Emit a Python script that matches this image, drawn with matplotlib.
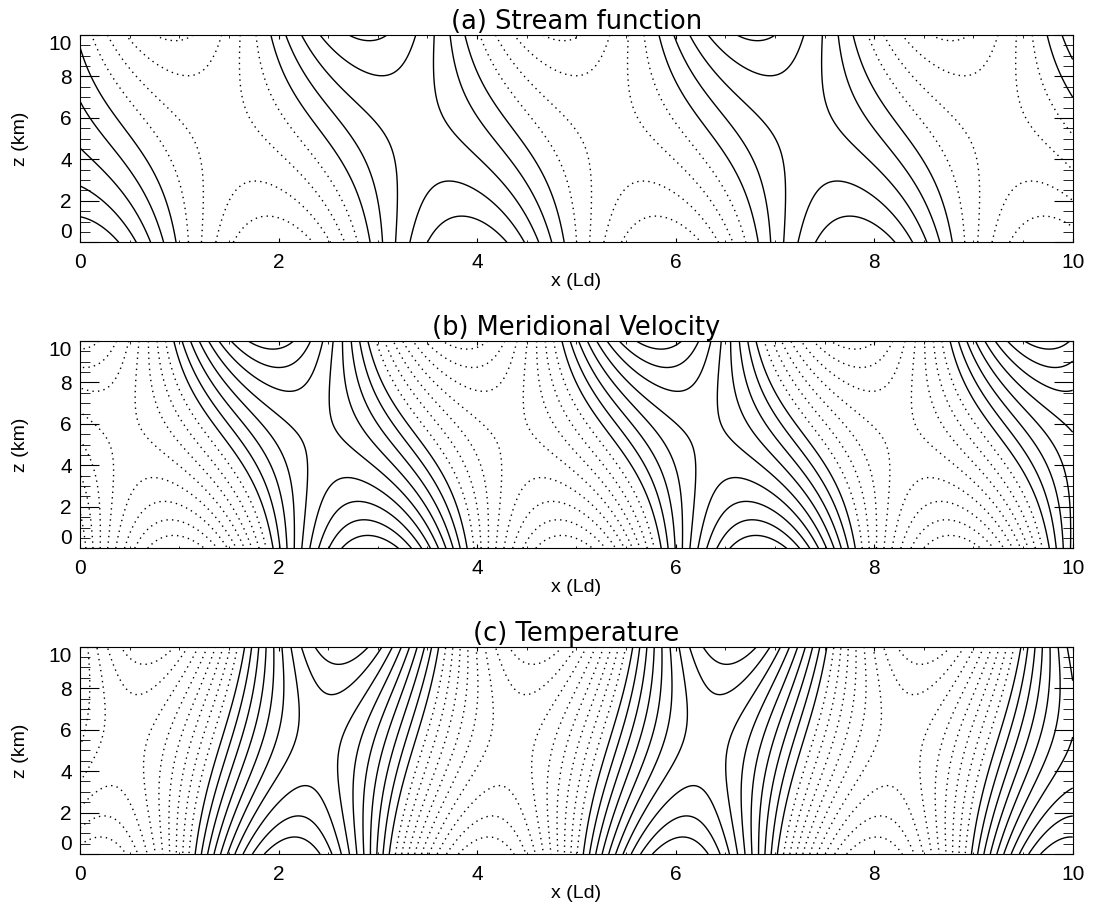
import numpy as np
import matplotlib.pyplot as plt
from matplotlib.ticker import MultipleLocator

plt.rcParams['font.family'] = ['Liberation Sans', 'DejaVu Sans']

###############################################
# Values
###############################################

H_KM = 10.0          # depth of the layer (km)
WAVELENGTH = 3.91    # Ld, spacing of repeated highs along x
X_GROUND_MAX = 3.90  # Ld, stream function high at the ground
TOP_SHIFT = 1.0      # Ld, westward shift of the high at the lid
TOP_AMP = 0.84       # amplitude at the lid / amplitude at the ground

titles = ["(a) Stream function", "(b) Meridional Velocity", "(c) Temperature"]
xlabel = "x (Ld)"
ylabel = "z (km)"

# contour levels, as a fraction of the ground amplitude of each field
psi_levels = [-0.8, -0.6, -0.4, -0.2, 0.0, 0.2, 0.4, 0.6, 0.8]
v_levels = [-0.896, -0.784, -0.672, -0.56, -0.448, -0.336, -0.224, -0.112,
            0.0, 0.112, 0.224, 0.336, 0.448, 0.56, 0.672, 0.784, 0.896]
t_levels = [-0.9, -0.8, -0.7, -0.6, -0.5, -0.4, -0.3, -0.2, -0.1,
            0.0, 0.1, 0.2, 0.3, 0.4, 0.5, 0.6, 0.7, 0.8, 0.9]

x_ticks = [0, 2, 4, 6, 8, 10]
z_ticks = [0, 2, 4, 6, 8, 10]

###############################################
# Eady-type normal mode
###############################################

def wave_fields(x, z):
    mu = 2 * np.pi / WAVELENGTH
    top = TOP_AMP * np.exp(1j * mu * TOP_SHIFT)
    b = (top - np.cosh(mu)) / np.sinh(mu)
    X, Z = np.meshgrid(x, z / H_KM)
    phase = np.exp(1j * mu * (X - X_GROUND_MAX))
    amp = np.cosh(mu * Z) + b * np.sinh(mu * Z)
    damp = mu * (np.sinh(mu * Z) + b * np.cosh(mu * Z))
    psi = np.real(amp * phase)
    v = np.real(1j * mu * amp * phase) / mu
    t = np.real(damp * phase) / np.abs(mu * b)
    return psi, v, t


def draw_panel(ax, x, z, field, levels, title):
    pos = [l for l in levels if l >= 0]
    neg = [l for l in levels if l < 0]
    ax.contour(x, z, field, levels=pos, colors="k", linewidths=1.0,
               linestyles="solid")
    ax.contour(x, z, field, levels=neg, colors="k", linewidths=1.0,
               linestyles=[(0, (1, 3))])
    ax.set_xlim(0, 10)
    ax.set_ylim(0, 10)
    ax.set_xticks(x_ticks)
    ax.set_yticks(z_ticks)
    ax.xaxis.set_minor_locator(MultipleLocator(0.5))
    ax.yaxis.set_minor_locator(MultipleLocator(0.5))
    ax.tick_params(axis="x", which="major", direction="in", length=3,
                   top=True, labelsize=15, pad=8)
    ax.tick_params(axis="x", which="minor", direction="in", length=1.8,
                   top=True)
    ax.tick_params(axis="y", which="major", direction="in", length=14,
                   right=True, labelsize=15, pad=6)
    ax.tick_params(axis="y", which="minor", direction="in", length=7,
                   right=True)
    labs = ax.get_yticklabels()
    labs[0].set_va("bottom")
    labs[-1].set_va("top")
    ax.set_title(title, fontsize=18.5, pad=4, family="DejaVu Sans")
    ax.set_xlabel(xlabel, fontsize=14)
    ax.set_ylabel(ylabel, fontsize=14)
    ax.xaxis.set_label_coords(0.5, -0.19)
    ax.xaxis.label.set_va("center")
    ax.yaxis.set_label_coords(-0.06, 0.5)
    ax.yaxis.label.set_va("center")


def main():
    x = np.linspace(0, 10, 801)
    z = np.linspace(0, H_KM, 301)
    fields = wave_fields(x, z)
    levels = [psi_levels, v_levels, t_levels]

    fig = plt.figure(figsize=(10.93, 9.06), dpi=100)
    bottoms = [0.7326, 0.3948, 0.0574]
    for i in range(3):
        ax = fig.add_axes([0.0732, bottoms[i], 0.9082, 0.2288])
        draw_panel(ax, x, z, fields[i], levels[i], titles[i])

    fig.savefig("out.png", dpi=100)


if __name__ == "__main__":
    main()
